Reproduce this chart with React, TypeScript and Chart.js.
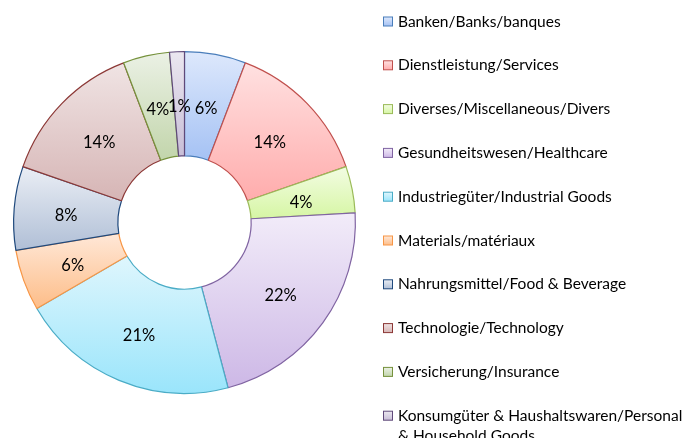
import React, { useEffect, useRef } from "react";
import { Chart, registerables } from "chart.js";

Chart.register(...registerables);

const categories: string[][] = [
  ["Banken/Banks/banques"],
  ["Dienstleistung/Services"],
  ["Diverses/Miscellaneous/Divers"],
  ["Gesundheitswesen/Healthcare"],
  ["Industriegüter/Industrial Goods"],
  ["Materials/matériaux"],
  ["Nahrungsmittel/Food & Beverage"],
  ["Technologie/Technology"],
  ["Versicherung/Insurance"],
  ["Konsumgüter & Haushaltswaren/Personal", "& Household Goods"],
];

const shares: number[] = [5.8, 13.9, 4.4, 21.8, 20.7, 5.8, 7.9, 13.9, 4.4, 1.4];

const topColors: string[] = [
  "#dde8fc", "#ffe1e1", "#f3fce3", "#f2ecf9", "#dff6fd",
  "#ffe8d8", "#eaeef5", "#f0e4e4", "#ebf1e5", "#ebe7f0",
];
const bottomColors: string[] = [
  "#a5c2f4", "#ffacac", "#d6f6a4", "#cdb8e6", "#9ae5fb",
  "#fdbd88", "#b0bfd6", "#d6b5b5", "#c2d5ab", "#c8bed7",
];
const borderColors: string[] = [
  "#4a7ebb", "#c0504d", "#9bbb59", "#8064a2", "#4bacc6",
  "#f79646", "#1f497d", "#8c3836", "#76923c", "#5f497a",
];

const FONT = "Lato, 'Open Sans', sans-serif";

function sliceYRange(cy: number, R: number, r: number, a0: number, a1: number) {
  let minY = Infinity;
  let maxY = -Infinity;
  const steps = 40;
  for (let s = 0; s <= steps; s++) {
    const a = a0 + ((a1 - a0) * s) / steps;
    for (const rad of [R, r]) {
      const y = cy - rad * Math.cos(a);
      if (y < minY) minY = y;
      if (y > maxY) maxY = y;
    }
  }
  return [minY, maxY];
}

export default function App() {
  const ref = useRef<HTMLCanvasElement | null>(null);

  useEffect(() => {
    const canvas = ref.current;
    if (!canvas) return;
    const total = shares.reduce((a, b) => a + b, 0);

    const bg = (ctx: any) => {
      const chart = ctx.chart;
      const area = chart.chartArea;
      const i = ctx.dataIndex;
      if (!area || i === undefined) return bottomColors[i ?? 0];
      const cx = (area.left + area.right) / 2;
      const cy = (area.top + area.bottom) / 2;
      const R = (Math.min(area.right - area.left, area.bottom - area.top) - 1) / 2;
      const r = R * 0.39;
      let start = 0;
      for (let k = 0; k < i; k++) start += shares[k];
      const a0 = (start / total) * Math.PI * 2;
      const a1 = ((start + shares[i]) / total) * Math.PI * 2;
      const [y0, y1] = sliceYRange(cy, R, r, a0, a1);
      const g = chart.ctx.createLinearGradient(cx, y0, cx, y1);
      g.addColorStop(0, topColors[i]);
      g.addColorStop(1, bottomColors[i]);
      return g;
    };

    const labelPlugin = {
      id: "sliceLabels",
      afterDatasetsDraw(chart: any) {
        const c = chart.ctx;
        const meta = chart.getDatasetMeta(0);
        c.save();
        c.font = `16.5px ${FONT}`;
        c.fillStyle = "#000000";
        c.textAlign = "center";
        c.textBaseline = "middle";
        meta.data.forEach((el: any, i: number) => {
          const p = el.tooltipPosition();
          const pct = Math.round((shares[i] / total) * 100);
          c.fillText(`${pct}%`, p.x, p.y + 3);
        });
        c.restore();
      },
    };

    const legendPlugin = {
      id: "sideLegend",
      afterDraw(chart: any) {
        const c = chart.ctx;
        c.save();
        c.font = `15.5px ${FONT}`;
        c.fillStyle = "#000000";
        c.textAlign = "left";
        c.textBaseline = "middle";
        categories.forEach((lines, i) => {
          const y = 21.5 + i * 43.8;
          const mx = 383.5;
          const my = y - 4.5;
          const g = c.createLinearGradient(0, my, 0, my + 9);
          g.addColorStop(0, topColors[i]);
          g.addColorStop(1, bottomColors[i]);
          c.fillStyle = g;
          c.fillRect(mx, my, 9, 9);
          c.strokeStyle = borderColors[i];
          c.lineWidth = 1;
          c.strokeRect(mx, my, 9, 9);
          c.fillStyle = "#000000";
          lines.forEach((t, j) => {
            c.fillText(t, 398, y + j * 20, 289);
          });
        });
        c.restore();
      },
    };

    const chart = new Chart(canvas, {
      type: "doughnut",
      data: {
        labels: categories.map((l) => l.join(" ")),
        datasets: [
          {
            data: shares,
            backgroundColor: bg as any,
            borderColor: borderColors,
            borderWidth: 1.2,
            hoverOffset: 0,
          },
        ],
      },
      options: {
        responsive: false,
        animation: false,
        cutout: "39%",
        layout: { padding: { left: 13, right: 333, top: 51, bottom: 44 } },
        plugins: {
          legend: { display: false },
          tooltip: { enabled: false },
        },
      },
      plugins: [labelPlugin, legendPlugin],
    });

    return () => chart.destroy();
  }, []);

  return (
    <div style={{ position: "fixed", left: 0, top: 0, width: 689, height: 438, background: "#ffffff" }}>
      <canvas ref={ref} width={689} height={438} style={{ display: "block" }} />
    </div>
  );
}
